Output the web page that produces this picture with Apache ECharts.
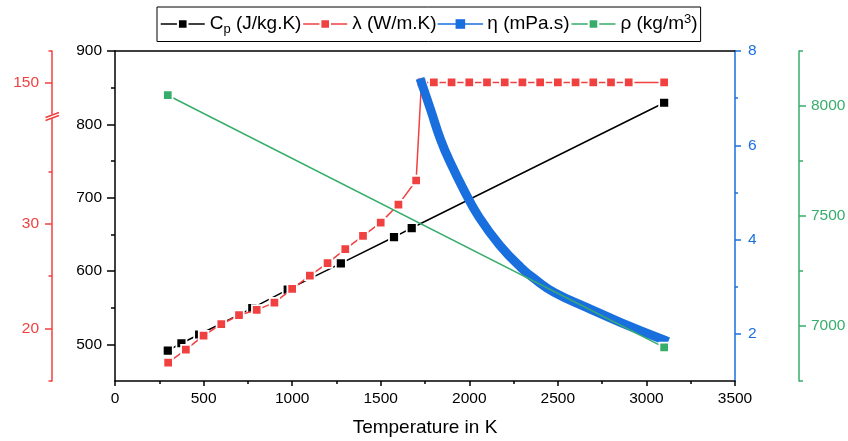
<!DOCTYPE html>
<html><head><meta charset="utf-8">
<script src="https://cdn.jsdelivr.net/npm/echarts@6/dist/echarts.min.js"></script>
<style>html,body{margin:0;padding:0;background:#fff}#c{width:848px;height:441px}</style>
</head><body><div id="c"></div>
<script>
// ---- data ----
const cpT = [298, 375, 475, 775, 975, 1275, 1575, 1675, 3100];
const cpV = [491.5, 501.5, 513.4, 549.3, 574.5, 610.4, 646.3, 658.6, 829.4];
const lamT = [300, 400, 500, 600, 700, 800, 900, 1000, 1100, 1200, 1300, 1400, 1500, 1600, 1700,
  1730, 1800, 1900, 2000, 2100, 2200, 2300, 2400, 2500, 2600, 2700, 2800, 2900, 3100];
const lamV = [16.75, 18.0, 19.33, 20.42, 21.28, 21.79, 22.48, 23.79, 25.06, 26.25, 27.58, 28.85, 30.12, 31.84, 34.14,
  150, 150, 150, 150, 150, 150, 150, 150, 150, 150, 150, 150, 150, 150];
const etaT = [1730, 1783, 1839, 1896, 1971, 2056, 2170, 2291, 2385, 2479, 2668, 2856, 3100];
const etaV = [7.33, 6.74, 6.11, 5.61, 5.04, 4.47, 3.89, 3.41, 3.12, 2.88, 2.55, 2.24, 1.87];
const rhoT = [298, 3100];
const rhoV = [8049, 6903];

// tick labels / tick positions
const xTicks = [0, 500, 1000, 1500, 2000, 2500, 3000, 3500];
const cpMajor = [500, 600, 700, 800, 900];
const cpMinor = [550, 650, 750, 850];
const etaMajor = [2, 4, 6, 8];
const etaMinor = [3, 5, 7];
const rhoMajor = [7000, 7500, 8000];
const rhoMinor = [6750, 7250, 7750, 8250];
const lamMajor = [20, 30, 150];
const lamMinor = [15, 25, 35, 153];
const lamBreak = [40.25, 146.75];

const names = ['Cp', 'lambda', 'eta', 'rho'];
const legendText = {
  Cp: '{t|C}{s|p}{t| (J/kg.K)}',
  lambda: '{t|λ (W/m.K)}',
  eta: '{t|η (mPa.s)}',
  rho: '{t|ρ (kg/m}{u|3}{t|)}'
};

const F = '"Liberation Sans", Arial, sans-serif';
const BLACK = '#000000', RED = '#F14040', BLUE = '#1A6FDF', GREEN = '#37AD6B';
const zip = (a, b) => a.map((v, i) => [v, b[i]]);
const plain = v => String(v);

function yAx(o) {
  return {
    type: 'value', position: o.pos, offset: o.off || 0, min: o.min, max: o.max,
    breaks: o.breaks, breakArea: o.breaks ? { show: false } : undefined,
    axisLine: { show: !!o.line, onZero: false, lineStyle: { color: o.color, width: 1.5 } },
    axisTick: { show: true, customValues: o.ticks, length: o.len, lineStyle: { color: o.color, width: 1.5 } },
    axisLabel: o.labels ? { show: true, customValues: o.labels, formatter: plain, margin: o.margin || 13, color: o.color, fontSize: 15.5, fontFamily: F } : { show: false },
    splitLine: { show: false }
  };
}

const chart = echarts.init(document.getElementById('c'), null, { renderer: 'canvas' });
const symStyle = c => ({ color: c, borderColor: '#ffffff', borderWidth: 1.8 });

const option = {
  animation: false,
  backgroundColor: '#ffffff',
  grid: { left: 115, right: 113, top: 51, bottom: 60, containLabel: false, outerBoundsMode: 'none' },
  legend: {
    data: names.map(n => ({ name: n, lineStyle: { width: 1.5 } })), left: 157, top: 7, orient: 'horizontal',
    itemWidth: 44, itemHeight: 12, itemGap: 1, padding: [6, 3, 6, 3],
    borderColor: '#000', borderWidth: 1, backgroundColor: '#fff',
    lineStyle: { width: 1.5 },
    formatter: n => legendText[n],
    textStyle: {
      fontFamily: F, color: '#000', fontSize: 19,
      rich: {
        t: { fontFamily: F, fontSize: 19, color: '#000' },
        s: { fontFamily: F, fontSize: 13, color: '#000', padding: [10, 0, 0, 0] },
        u: { fontFamily: F, fontSize: 13, color: '#000', padding: [0, 0, 9, 0] }
      }
    }
  },
  xAxis: [{
    type: 'value', min: 0, max: 3500, interval: 500,
    name: 'Temperature in K', nameLocation: 'middle', nameGap: 37,
    nameTextStyle: { fontFamily: F, fontSize: 19, color: '#000' },
    axisLine: { onZero: false, lineStyle: { color: BLACK, width: 1.5 } },
    axisTick: { length: 5, lineStyle: { color: BLACK, width: 1.5 } },
    minorTick: { show: true, splitNumber: 2, length: 3, lineStyle: { color: BLACK, width: 1.5 } },
    axisLabel: { customValues: xTicks, formatter: plain, margin: 10, color: '#000', fontSize: 15.5, fontFamily: F },
    splitLine: { show: false }, minorSplitLine: { show: false }
  }, {
    type: 'value', position: 'top', min: 0, max: 3500,
    axisLine: { show: true, onZero: false, lineStyle: { color: BLACK, width: 1.5 } },
    axisTick: { show: false }, axisLabel: { show: false }, splitLine: { show: false }
  }],
  yAxis: [
    yAx({ pos: 'left', min: 450, max: 900, line: true, color: BLACK, ticks: cpMajor, labels: cpMajor, len: 8 }),
    yAx({ pos: 'left', min: 450, max: 900, color: BLACK, ticks: cpMinor, len: 4 }),
    yAx({ pos: 'right', min: 1, max: 8, line: true, color: BLUE, ticks: etaMajor, labels: etaMajor, len: 6 }),
    yAx({ pos: 'right', min: 1, max: 8, color: BLUE, ticks: etaMinor, len: 3 }),
    yAx({ pos: 'right', off: 64, min: 6750, max: 8250, line: true, color: GREEN, ticks: rhoMajor, labels: rhoMajor, len: 7, margin: 12 }),
    yAx({ pos: 'right', off: 64, min: 6750, max: 8250, color: GREEN, ticks: rhoMinor, len: 4 }),
    yAx({ pos: 'left', off: 63, min: 15, max: 153, line: true, color: RED, ticks: lamMajor, labels: lamMajor, len: 7,
      breaks: [{ start: lamBreak[0], end: lamBreak[1], gap: 0 }] }),
    yAx({ pos: 'left', off: 63, min: 15, max: 153, color: RED, ticks: lamMinor, len: 3.5,
      breaks: [{ start: lamBreak[0], end: lamBreak[1], gap: 0 }] })
  ],
  series: [
    { name: 'Cp', type: 'line', yAxisIndex: 0, data: zip(cpT, cpV), symbol: 'rect', symbolSize: 10,
      lineStyle: { color: BLACK, width: 1.5 }, itemStyle: symStyle(BLACK), z: 2 },
    { name: 'lambda', type: 'line', yAxisIndex: 6, data: zip(lamT, lamV), symbol: 'rect', symbolSize: 9.5,
      lineStyle: { color: RED, width: 1.5 }, itemStyle: symStyle(RED), z: 3 },
    { name: 'eta', type: 'line', yAxisIndex: 2, data: zip(etaT, etaV), symbol: 'rect', symbolSize: 9,
      showSymbol: false, smooth: 0.5,
      lineStyle: { color: BLUE, width: 9, cap: 'square' }, itemStyle: { color: BLUE }, z: 4 },
    { name: 'rho', type: 'line', yAxisIndex: 4, data: zip(rhoT, rhoV), symbol: 'rect', symbolSize: 9.5,
      lineStyle: { color: GREEN, width: 1.5 }, itemStyle: symStyle(GREEN), z: 5 }
  ]
};
chart.setOption(option);

// axis-break marks on the λ axis
const by = chart.convertToPixel({ yAxisIndex: 6 }, lamBreak[0]);
const ax = 115 - 63;
if (isFinite(by)) {
  chart.setOption({
    graphic: [
      { type: 'rect', shape: { x: ax - 2, y: by - 2, width: 4, height: 4 }, style: { fill: '#fff' }, z: 100 },
      { type: 'line', shape: { x1: ax - 6.5, y1: by + 1, x2: ax + 7, y2: by - 4 }, style: { stroke: RED, lineWidth: 1.5 }, z: 101 },
      { type: 'line', shape: { x1: ax - 6.5, y1: by + 4, x2: ax + 7, y2: by - 1 }, style: { stroke: RED, lineWidth: 1.5 }, z: 101 }
    ]
  });
}
</script></body></html>
